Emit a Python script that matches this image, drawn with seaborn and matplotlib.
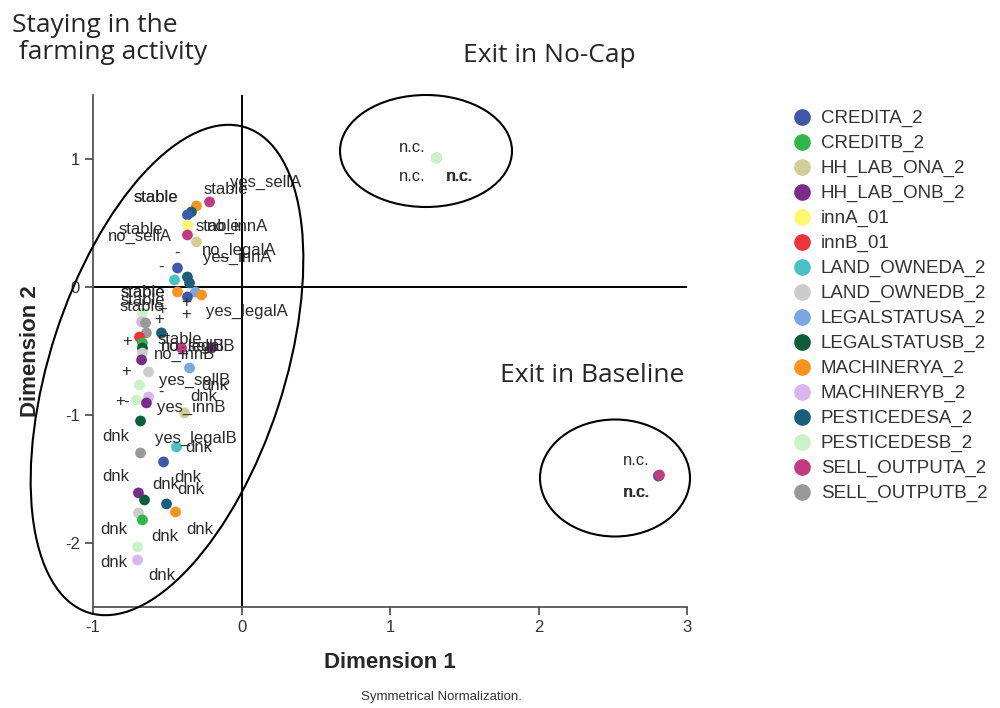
import matplotlib
matplotlib.use("Agg")
import matplotlib.pyplot as plt
import seaborn as sns
import pandas as pd
from matplotlib.patches import Ellipse
from matplotlib.lines import Line2D

# Variables (legend order) and their SPSS colours
variables = ['CREDITA_2', 'CREDITB_2', 'HH_LAB_ONA_2', 'HH_LAB_ONB_2', 'innA_01', 'innB_01',
             'LAND_OWNEDA_2', 'LAND_OWNEDB_2', 'LEGALSTATUSA_2', 'LEGALSTATUSB_2',
             'MACHINERYA_2', 'MACHINERYB_2', 'PESTICEDESA_2', 'PESTICEDESB_2',
             'SELL_OUTPUTA_2', 'SELL_OUTPUTB_2']
colors = ['#3e58ac', '#2eb848', '#d3ce97', '#7b2c8b', '#fbf873', '#ef3338',
          '#48c2c5', '#cccccc', '#7ba7e1', '#0b5d3b',
          '#f7941d', '#d9b5ee', '#195e7b', '#c9f2c7',
          '#c13b80', '#999999']

# Category points (Dimension 1, Dimension 2)
pt_var = ['SELL_OUTPUTA_2', 'MACHINERYA_2', 'PESTICEDESA_2', 'CREDITA_2', 'innA_01',
          'SELL_OUTPUTA_2', 'HH_LAB_ONA_2', 'CREDITA_2', 'PESTICEDESA_2', 'LAND_OWNEDA_2',
          'PESTICEDESA_2', 'MACHINERYA_2', 'LEGALSTATUSA_2', 'MACHINERYA_2', 'CREDITA_2',
          'PESTICEDESB_2', 'MACHINERYB_2', 'SELL_OUTPUTB_2', 'SELL_OUTPUTB_2', 'PESTICEDESA_2',
          'innB_01', 'CREDITB_2', 'LEGALSTATUSB_2', 'SELL_OUTPUTA_2', 'HH_LAB_ONB_2',
          'LAND_OWNEDB_2', 'HH_LAB_ONB_2', 'LEGALSTATUSA_2', 'LAND_OWNEDB_2', 'PESTICEDESB_2',
          'MACHINERYB_2', 'PESTICEDESB_2', 'HH_LAB_ONB_2', 'HH_LAB_ONA_2', 'LEGALSTATUSB_2',
          'LAND_OWNEDA_2', 'SELL_OUTPUTB_2', 'CREDITA_2', 'HH_LAB_ONB_2', 'LEGALSTATUSB_2',
          'PESTICEDESA_2', 'MACHINERYA_2', 'LAND_OWNEDB_2', 'CREDITB_2', 'PESTICEDESB_2',
          'MACHINERYB_2',
          'HH_LAB_ONA_2', 'MACHINERYB_2', 'PESTICEDESB_2',
          'HH_LAB_ONB_2', 'CREDITA_2', 'SELL_OUTPUTA_2']
pt_dim1 = [-0.215, -0.303, -0.337, -0.364, -0.364,
           -0.364, -0.303, -0.431, -0.364, -0.451,
           -0.350, -0.431, -0.310, -0.269, -0.364,
           -0.667, -0.673, -0.646, -0.640, -0.539,
           -0.687, -0.667, -0.667, -0.404, -0.202,
           -0.667, -0.673, -0.350, -0.626, -0.687,
           -0.626, -0.707, -0.640, -0.384, -0.680,
           -0.438, -0.680, -0.525, -0.694, -0.653,
           -0.505, -0.444, -0.694, -0.667, -0.700,
           -0.700,
           1.313, 1.313, 1.313,
           2.808, 2.808, 2.815]
pt_dim2 = [0.664, 0.633, 0.586, 0.563, 0.484,
           0.406, 0.352, 0.148, 0.078, 0.055,
           0.031, -0.039, -0.040, -0.063, -0.078,
           -0.203, -0.273, -0.281, -0.359, -0.359,
           -0.391, -0.438, -0.477, -0.477, -0.477,
           -0.516, -0.570, -0.633, -0.664, -0.766,
           -0.859, -0.883, -0.906, -0.984, -1.047,
           -1.250, -1.297, -1.367, -1.609, -1.664,
           -1.695, -1.758, -1.766, -1.820, -2.031,
           -2.133,
           1.008, 1.008, 1.008,
           -1.476, -1.476, -1.469]

# Category labels and where they sit in the plot
lab_text = ['stable', 'stable', 'stable', 'yes_sellA', 'stable', 'no_sellA', 'stable', 'no_innA',
            'no_legalA', 'yes_innA', '-', '-',
            'stable', 'stable', 'stable', 'stable', 'yes_legalA', '+', '+', '+', '+',
            '+', 'stable', 'no_legalB', 'no_sellB', 'no_innB', '+', 'yes_sellB', 'dnk', '-',
            'dnk', '+', '-', 'yes_innB',
            'dnk', 'yes_legalB', 'dnk', 'dnk', 'dnk', 'dnk', 'dnk', 'dnk', 'dnk', 'dnk',
            'dnk', 'dnk',
            'n.c.', 'n.c.', 'n.c.', 'n.c.', 'n.c.', 'n.c.', 'n.c.']
lab_x = [-0.579, -0.574, -0.108, 0.162, -0.680, -0.687, -0.162, -0.027,
         -0.013, -0.027, -0.431, -0.539,
         -0.667, -0.662, -0.667, -0.673, 0.034, -0.370, -0.532, -0.370, -0.552,
         -0.768, -0.418, -0.290, -0.330, -0.384, -0.774, -0.316, -0.182, -0.539,
         -0.256, -0.815, -0.781, -0.337,
         -0.848, -0.310, -0.290, -0.848, -0.364, -0.512, -0.343, -0.862, -0.519, -0.283,
         -0.862, -0.539,
         1.152, 1.152, 1.468, 1.473, 2.660, 2.660, 2.665]
lab_y = [0.695, 0.695, 0.758, 0.813, 0.445, 0.391, 0.469, 0.469,
         0.289, 0.227, 0.266, 0.156,
         -0.047, -0.047, -0.102, -0.156, -0.195, -0.125, -0.180, -0.219, -0.258,
         -0.430, -0.414, -0.461, -0.461, -0.531, -0.664, -0.727, -0.766, -0.820,
         -0.859, -0.891, -0.898, -0.945,
         -1.172, -1.180, -1.258, -1.484, -1.492, -1.547, -1.586, -1.891, -1.953, -1.891,
         -2.156, -2.258,
         1.086, 0.859, 0.859, 0.859, -1.352, -1.609, -1.609]

df = pd.DataFrame({'var': pt_var, 'dim1': pt_dim1, 'dim2': pt_dim2})
palette = dict(zip(variables, colors))

sns.set_style('white')
plt.rcParams['font.family'] = ['Liberation Sans', 'DejaVu Sans']
plt.rcParams['axes.unicode_minus'] = False

fig = plt.figure(figsize=(10, 7.08), dpi=100)
ax = fig.add_axes([0.093, 0.1427, 0.594, 0.7232])

sns.scatterplot(data=df, x='dim1', y='dim2', hue='var', hue_order=variables,
                palette=palette, s=60, linewidth=0, legend=False, ax=ax, zorder=3)

for t, x, y in zip(lab_text, lab_x, lab_y):
    ax.text(x, y, t, fontsize=12, color='#2a2a2a', ha='center', va='center', zorder=4)

ax.axhline(0, color='black', lw=1.4, zorder=2)
ax.axvline(0, color='black', lw=1.4, zorder=2)

ax.set_xlim(-1, 3)
ax.set_ylim(-2.5, 1.5)
ax.set_xticks([-1, 0, 1, 2, 3])
ax.set_yticks([-2, -1, 0, 1])
ax.tick_params(axis='both', direction='out', length=6, width=1.3, color='#555555',
               labelsize=12, labelcolor='#333333', bottom=True, left=True)
sns.despine(ax=ax)
for sp in ['left', 'bottom']:
    ax.spines[sp].set_color('#555555')
    ax.spines[sp].set_linewidth(1.3)

ax.set_xlabel('Dimension 1', fontsize=16, fontweight='bold', va='center')
ax.set_ylabel('Dimension 2', fontsize=16, fontweight='bold', va='center')
ax.xaxis.set_label_coords(0.5, -0.109)
ax.yaxis.set_label_coords(-0.106, 0.5)

fig.text(0.441, 0.0155, 'Symmetrical Normalization.', fontsize=9.5, ha='center', va='center',
         color='#333333')

# legend
handles = [Line2D([], [], marker='o', ls='', markersize=12, markerfacecolor=c,
                  markeredgewidth=0) for c in colors]
fig.legend(handles, variables, loc='upper left', bbox_to_anchor=(0.785, 0.855),
           frameon=False, fontsize=13.5, labelspacing=0.41, handletextpad=0.5,
           handlelength=1.0, borderaxespad=0, labelcolor='#333333')

# annotations
fig.text(0.012, 0.981, 'Staying in the\n farming activity', fontsize=19, family='Open Sans',
         ha='left', va='top', linespacing=1.1)
fig.text(0.463, 0.922, 'Exit in No-Cap', fontsize=19, family='Open Sans', ha='left', va='center')
fig.text(0.500, 0.469, 'Exit in Baseline', fontsize=19, family='Open Sans', ha='left', va='center')

# ellipses, in inches from the bottom-left corner
tr = fig.dpi_scale_trans
for cx, cy, w, h, ang in [(1.67, 3.38, 5.1, 2.34, 72), (4.26, 5.57, 1.72, 1.12, 0),
                          (6.15, 2.30, 1.50, 1.17, 0)]:
    fig.add_artist(Ellipse((cx, cy), w, h, angle=ang, transform=tr, fill=False,
                           ec='black', lw=1.5))

fig.savefig('out.png', dpi=100, facecolor='white')
